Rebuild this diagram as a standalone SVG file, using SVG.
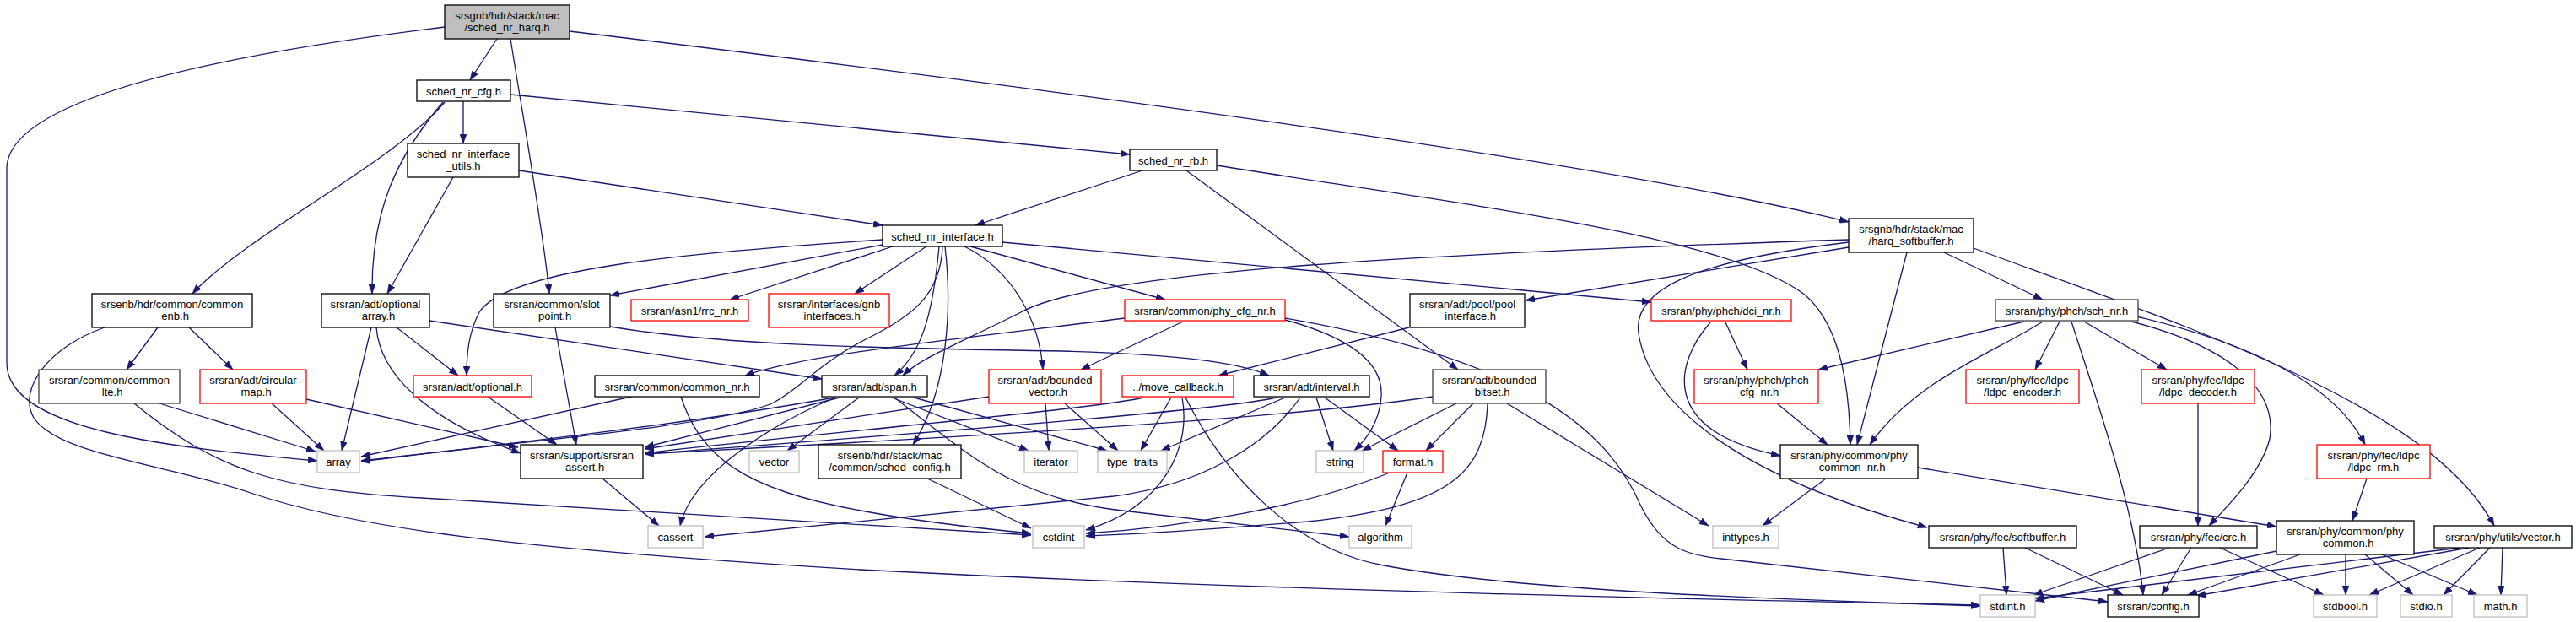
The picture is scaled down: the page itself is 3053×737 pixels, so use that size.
<svg xmlns="http://www.w3.org/2000/svg" width="3053" height="737" viewBox="0 0 3053 737">
<style>
.node rect{fill:#fff;stroke:#000;stroke-width:1.3}
.red rect{stroke:#ff0000}
.gry rect{stroke:#bfbfbf}
.drk rect{stroke:#404040}
.root rect{fill:#bfbfbf}
text{font-family:"Liberation Sans",Arial,Helvetica,sans-serif;font-size:13px;text-anchor:middle;fill:#000}
#edges path{fill:none;stroke:#191970;stroke-width:1.3;marker-end:url(#arr)}
</style>
<defs>
<marker id="arr" markerWidth="11" markerHeight="8" refX="11" refY="4" orient="auto" markerUnits="userSpaceOnUse"><path d="M0,0 L11,4 L0,8 z" fill="#191970" stroke="#191970" stroke-width="0.5"/></marker>
</defs>
<rect width="3053" height="737" fill="#fff"/>
<g id="edges">
<path d="M527,32 C300,60 8,110 8,200 L8,430 C8,510 200,530 376,546"/>
<path d="M589,46 L557,95"/>
<path d="M605,46 C620,140 645,280 651,348"/>
<path d="M675,37 C1200,100 1900,190 2191,263"/>
<path d="M527,121 C470,190 290,280 228,348"/>
<path d="M525,121 C470,185 440,250 441,348"/>
<path d="M549,120 L549,170"/>
<path d="M605,112 L1339,183"/>
<path d="M537,210 L459,348"/>
<path d="M615,202 L1046,267"/>
<path d="M1354,202 L1156,267"/>
<path d="M1406,202 L1728,438"/>
<path d="M1442,196 C1750,245 2050,280 2140,350 C2185,390 2192,470 2193,527"/>
<path d="M1058,292 L865,355"/>
<path d="M1098,292 L1013,348"/>
<path d="M1046,290 L723,350"/>
<path d="M1046,284 C800,300 600,320 568,370 C555,395 553,420 553,445"/>
<path d="M1117,292 C1115,350 1080,375 1030,400 C970,430 950,460 915,478 C850,505 600,525 428,546"/>
<path d="M1113,292 C1105,380 1090,420 1060,445"/>
<path d="M1120,292 C1128,360 1125,460 1082,527"/>
<path d="M1143,292 C1200,320 1232,380 1236,438"/>
<path d="M1150,292 L1381,355"/>
<path d="M1188,287 L1957,358"/>
<path d="M2191,284 C1700,300 1300,320 1210,370 C1130,410 1090,425 1070,445"/>
<path d="M2191,293 L1808,356"/>
<path d="M2191,287 C2000,310 1935,345 1942,395 C1955,480 2060,565 2284,625"/>
<path d="M2260,299 L2201,527"/>
<path d="M2304,299 L2421,355"/>
<path d="M2339,294 C2600,390 2880,480 2956,623"/>
<path d="M187,388 L150,438"/>
<path d="M224,388 L276,438"/>
<path d="M124,388 C60,410 20,460 40,495 C70,540 200,550 300,585 C420,625 600,650 1020,675 C1500,700 2100,712 2347,717"/>
<path d="M440,388 L405,534"/>
<path d="M446,388 C450,440 500,495 617,537"/>
<path d="M470,388 L543,445"/>
<path d="M509,380 L974,449"/>
<path d="M658,388 L683,527"/>
<path d="M723,387 C850,408 1000,412 1260,416 C1400,420 1470,430 1504,445"/>
<path d="M1333,377 C1150,400 950,420 883,445"/>
<path d="M1402,381 L1281,438"/>
<path d="M1523,379 C1600,400 1640,430 1637,470 C1635,500 1620,520 1605,534"/>
<path d="M1523,377 C1830,430 1910,520 1945,600 C1970,650 2000,658 2040,662 L2498,713"/>
<path d="M1670,388 L1444,445"/>
<path d="M2045,382 L2071,438"/>
<path d="M2027,382 C1985,430 1965,510 2110,540"/>
<path d="M2399,381 L2155,438"/>
<path d="M2421,381 C2360,420 2270,450 2216,527"/>
<path d="M2441,381 L2412,438"/>
<path d="M2470,381 L2568,438"/>
<path d="M2455,381 C2480,460 2530,600 2540,705"/>
<path d="M2526,381 C2640,410 2700,460 2690,520 C2680,560 2640,600 2618,623"/>
<path d="M2532,375 C2680,410 2770,460 2803,527"/>
<path d="M189,478 L374,535"/>
<path d="M159,478 C260,560 330,580 500,590 C800,610 1100,628 1222,634"/>
<path d="M322,478 L384,534"/>
<path d="M363,473 L614,530"/>
<path d="M578,470 L660,527"/>
<path d="M748,470 L428,541"/>
<path d="M807,470 C830,540 880,580 1020,605 C1100,620 1180,628 1222,632"/>
<path d="M989,471 C800,505 600,525 428,547"/>
<path d="M995,471 L764,530"/>
<path d="M990,471 C920,500 820,560 806,623"/>
<path d="M1018,471 L933,534"/>
<path d="M1057,471 L1219,534"/>
<path d="M1083,471 L1312,534"/>
<path d="M1060,471 C1150,540 1200,590 1330,605 C1450,618 1550,630 1599,636"/>
<path d="M1172,470 L764,532"/>
<path d="M1239,478 L1243,534"/>
<path d="M1262,478 L1325,534"/>
<path d="M1355,471 C1300,485 900,520 764,537"/>
<path d="M1388,471 L1352,534"/>
<path d="M1401,471 C1412,530 1380,600 1287,628"/>
<path d="M1405,471 C1450,560 1530,650 1640,670 C1800,700 2100,710 2347,718"/>
<path d="M1513,471 C1440,488 1000,520 764,538"/>
<path d="M1523,471 L1376,534"/>
<path d="M1541,471 C1500,530 1420,575 1320,588 L835,636"/>
<path d="M1560,471 L1580,534"/>
<path d="M1570,471 L1657,534"/>
<path d="M1698,470 C1500,500 1000,525 764,538"/>
<path d="M1726,478 L1614,534"/>
<path d="M1746,478 L1690,534"/>
<path d="M1763,478 C1760,560 1720,600 1550,618 C1400,630 1320,634 1287,635"/>
<path d="M1786,478 L2025,623"/>
<path d="M2106,478 L2166,527"/>
<path d="M2605,478 L2605,623"/>
<path d="M2805,567 L2788,617"/>
<path d="M714,567 L781,623"/>
<path d="M1099,567 L1222,626"/>
<path d="M1647,560 C1550,600 1400,625 1287,632"/>
<path d="M1668,560 L1642,623"/>
<path d="M2164,567 L2089,623"/>
<path d="M2273,554 L2698,624"/>
<path d="M2374,649 L2378,705"/>
<path d="M2400,649 L2516,705"/>
<path d="M2571,649 L2410,705"/>
<path d="M2597,649 L2562,705"/>
<path d="M2631,649 L2754,705"/>
<path d="M2698,653 L2412,712"/>
<path d="M2726,657 L2593,705"/>
<path d="M2780,657 L2780,705"/>
<path d="M2803,657 L2860,705"/>
<path d="M2823,657 L2936,705"/>
<path d="M2916,649 L2412,709"/>
<path d="M2926,649 L2603,706"/>
<path d="M2939,649 L2808,705"/>
<path d="M2951,649 L2896,705"/>
<path d="M2966,649 L2964,705"/>
</g>
<g id="n0" class="node root"><rect x="527" y="6" width="148" height="40"/><text x="601" y="22.5">srsgnb/hdr/stack/mac</text><text x="601" y="36.5">/sched_nr_harq.h</text></g>
<g id="n1" class="node"><rect x="494" y="95" width="111" height="25"/><text x="549.5" y="112.5">sched_nr_cfg.h</text></g>
<g id="n2" class="node"><rect x="483" y="170" width="132" height="40"/><text x="549" y="186.5">sched_nr_interface</text><text x="549" y="200.5">_utils.h</text></g>
<g id="n3" class="node"><rect x="1339" y="177" width="103" height="25"/><text x="1390.5" y="194.5">sched_nr_rb.h</text></g>
<g id="n4" class="node"><rect x="1046" y="267" width="142" height="25"/><text x="1117" y="284.5">sched_nr_interface.h</text></g>
<g id="n5" class="node"><rect x="2191" y="259" width="148" height="40"/><text x="2265" y="275.5">srsgnb/hdr/stack/mac</text><text x="2265" y="289.5">/harq_softbuffer.h</text></g>
<g id="n6" class="node"><rect x="109" y="348" width="190" height="40"/><text x="204" y="364.5">srsenb/hdr/common/common</text><text x="204" y="378.5">_enb.h</text></g>
<g id="n7" class="node"><rect x="381" y="348" width="128" height="40"/><text x="445" y="364.5">srsran/adt/optional</text><text x="445" y="378.5">_array.h</text></g>
<g id="n8" class="node"><rect x="585" y="348" width="138" height="40"/><text x="654" y="364.5">srsran/common/slot</text><text x="654" y="378.5">_point.h</text></g>
<g id="n9" class="node red"><rect x="748" y="355" width="139" height="25"/><text x="817.5" y="372.5">srsran/asn1/rrc_nr.h</text></g>
<g id="n10" class="node red"><rect x="911" y="348" width="143" height="40"/><text x="982.5" y="364.5">srsran/interfaces/gnb</text><text x="982.5" y="378.5">_interfaces.h</text></g>
<g id="n11" class="node red"><rect x="1333" y="355" width="190" height="25"/><text x="1428" y="372.5">srsran/common/phy_cfg_nr.h</text></g>
<g id="n12" class="node"><rect x="1671" y="348" width="136" height="40"/><text x="1739" y="364.5">srsran/adt/pool/pool</text><text x="1739" y="378.5">_interface.h</text></g>
<g id="n13" class="node red"><rect x="1957" y="355" width="166" height="25"/><text x="2040" y="372.5">srsran/phy/phch/dci_nr.h</text></g>
<g id="n14" class="node drk"><rect x="2365" y="355" width="169" height="25"/><text x="2449.5" y="372.5">srsran/phy/phch/sch_nr.h</text></g>
<g id="n15" class="node drk"><rect x="46" y="438" width="167" height="40"/><text x="129.5" y="454.5">srsran/common/common</text><text x="129.5" y="468.5">_lte.h</text></g>
<g id="n16" class="node red"><rect x="237" y="438" width="126" height="40"/><text x="300" y="454.5">srsran/adt/circular</text><text x="300" y="468.5">_map.h</text></g>
<g id="n17" class="node red"><rect x="490" y="445" width="140" height="25"/><text x="560" y="462.5">srsran/adt/optional.h</text></g>
<g id="n18" class="node"><rect x="705" y="445" width="195" height="25"/><text x="802.5" y="462.5">srsran/common/common_nr.h</text></g>
<g id="n19" class="node"><rect x="974" y="445" width="125" height="25"/><text x="1036.5" y="462.5">srsran/adt/span.h</text></g>
<g id="n20" class="node red"><rect x="1172" y="438" width="133" height="40"/><text x="1238.5" y="454.5">srsran/adt/bounded</text><text x="1238.5" y="468.5">_vector.h</text></g>
<g id="n21" class="node red"><rect x="1330" y="445" width="132" height="25"/><text x="1396" y="462.5">../move_callback.h</text></g>
<g id="n22" class="node"><rect x="1486" y="445" width="137" height="25"/><text x="1554.5" y="462.5">srsran/adt/interval.h</text></g>
<g id="n23" class="node drk"><rect x="1698" y="438" width="134" height="40"/><text x="1765" y="454.5">srsran/adt/bounded</text><text x="1765" y="468.5">_bitset.h</text></g>
<g id="n24" class="node red"><rect x="2008" y="438" width="147" height="40"/><text x="2081.5" y="454.5">srsran/phy/phch/phch</text><text x="2081.5" y="468.5">_cfg_nr.h</text></g>
<g id="n25" class="node red"><rect x="2330" y="438" width="134" height="40"/><text x="2397" y="454.5">srsran/phy/fec/ldpc</text><text x="2397" y="468.5">/ldpc_encoder.h</text></g>
<g id="n26" class="node red"><rect x="2538" y="438" width="134" height="40"/><text x="2605" y="454.5">srsran/phy/fec/ldpc</text><text x="2605" y="468.5">/ldpc_decoder.h</text></g>
<g id="n27" class="node gry"><rect x="376" y="534" width="50" height="26"/><text x="401" y="551.5">array</text></g>
<g id="n28" class="node"><rect x="617" y="527" width="145" height="40"/><text x="689.5" y="543.5">srsran/support/srsran</text><text x="689.5" y="557.5">_assert.h</text></g>
<g id="n29" class="node gry"><rect x="888" y="534" width="59" height="26"/><text x="917.5" y="551.5">vector</text></g>
<g id="n30" class="node"><rect x="970" y="527" width="169" height="40"/><text x="1054.5" y="543.5">srsenb/hdr/stack/mac</text><text x="1054.5" y="557.5">/common/sched_config.h</text></g>
<g id="n31" class="node gry"><rect x="1214" y="534" width="63" height="26"/><text x="1245.5" y="551.5">iterator</text></g>
<g id="n32" class="node gry"><rect x="1301" y="534" width="82" height="26"/><text x="1342" y="551.5">type_traits</text></g>
<g id="n33" class="node gry"><rect x="1560" y="534" width="56" height="26"/><text x="1588" y="551.5">string</text></g>
<g id="n34" class="node red"><rect x="1639" y="534" width="71" height="26"/><text x="1674.5" y="551.5">format.h</text></g>
<g id="n35" class="node"><rect x="2110" y="527" width="163" height="40"/><text x="2191.5" y="543.5">srsran/phy/common/phy</text><text x="2191.5" y="557.5">_common_nr.h</text></g>
<g id="n36" class="node red"><rect x="2746" y="527" width="134" height="40"/><text x="2813" y="543.5">srsran/phy/fec/ldpc</text><text x="2813" y="557.5">/ldpc_rm.h</text></g>
<g id="n37" class="node gry"><rect x="768" y="623" width="65" height="26"/><text x="800.5" y="640.5">cassert</text></g>
<g id="n38" class="node gry"><rect x="1224" y="623" width="61" height="26"/><text x="1254.5" y="640.5">cstdint</text></g>
<g id="n39" class="node gry"><rect x="1599" y="623" width="74" height="26"/><text x="1636" y="640.5">algorithm</text></g>
<g id="n40" class="node gry"><rect x="2030" y="623" width="78" height="26"/><text x="2069" y="640.5">inttypes.h</text></g>
<g id="n41" class="node"><rect x="2286" y="623" width="175" height="26"/><text x="2373.5" y="640.5">srsran/phy/fec/softbuffer.h</text></g>
<g id="n42" class="node"><rect x="2536" y="623" width="139" height="26"/><text x="2605.5" y="640.5">srsran/phy/fec/crc.h</text></g>
<g id="n43" class="node"><rect x="2698" y="617" width="163" height="40"/><text x="2779.5" y="633.5">srsran/phy/common/phy</text><text x="2779.5" y="647.5">_common.h</text></g>
<g id="n44" class="node"><rect x="2885" y="623" width="163" height="26"/><text x="2966.5" y="640.5">srsran/phy/utils/vector.h</text></g>
<g id="n45" class="node gry"><rect x="2347" y="705" width="65" height="26"/><text x="2379.5" y="722.5">stdint.h</text></g>
<g id="n46" class="node"><rect x="2498" y="705" width="108" height="26"/><text x="2552" y="722.5">srsran/config.h</text></g>
<g id="n47" class="node gry"><rect x="2742" y="705" width="75" height="26"/><text x="2779.5" y="722.5">stdbool.h</text></g>
<g id="n48" class="node gry"><rect x="2845" y="705" width="61" height="26"/><text x="2875.5" y="722.5">stdio.h</text></g>
<g id="n49" class="node gry"><rect x="2932" y="705" width="63" height="26"/><text x="2963.5" y="722.5">math.h</text></g>
</svg>
